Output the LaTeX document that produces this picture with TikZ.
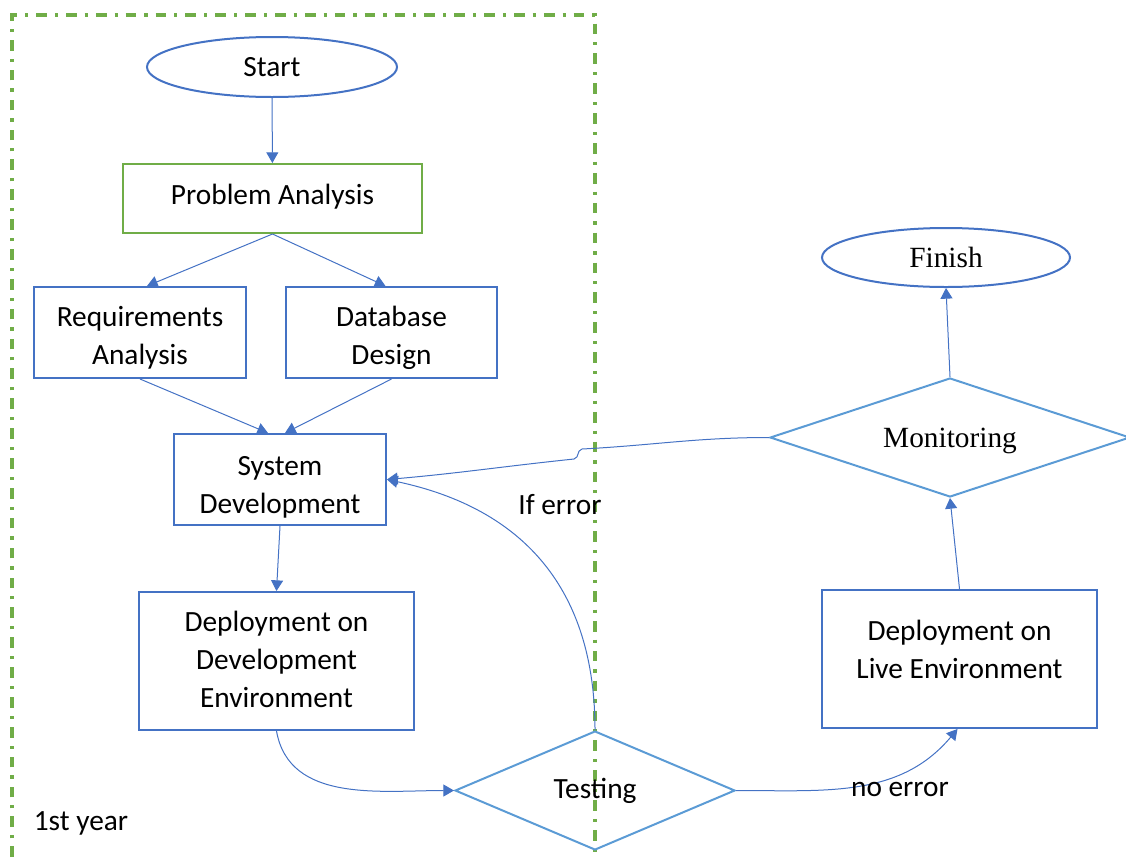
\documentclass[tikz,border=0pt]{standalone}
\usepackage{fontspec}
\setmainfont{Carlito}
\newfontfamily\timesface{Liberation Serif}
\usepackage{tikz}
\usetikzlibrary{arrows.meta, calc, shapes.geometric}
\definecolor{msblue}{HTML}{4472C4}
\definecolor{mslight}{HTML}{5B9BD5}
\definecolor{msgreen}{HTML}{70AD47}
\newcommand{\boxtext}[2]{\raisebox{#1}[\height][\depth]{\begin{tabular}{@{}c@{}}#2\end{tabular}}}
\tikzset{
	box/.style={draw=msblue, line width=1.5pt, rectangle, align=center, inner sep=2pt},
	oval/.style={draw=msblue, line width=1.5pt, ellipse, inner sep=0pt},
	decide/.style={draw=mslight, line width=1.5pt, diamond, inner sep=0pt},
	link/.style={draw=msblue, line width=0.75pt, -{Triangle[length=8pt,width=9pt]}},
}
\begin{document}
\begin{tikzpicture}[x=0.75pt, y=-0.75pt, font=\fontsize{22}{28.5}\selectfont]
	\useasboundingbox (0,0) rectangle (1126,857);
	% first year frame
	\draw[color=msgreen, line width=2.6pt, dash pattern=on 8pt off 6pt on 2.4pt off 6pt] (12,857) -- (12,15) -- (595,15) -- (595,857);
	\draw (81,823) node (year) {1st year};
	% nodes
	\node[oval, minimum width=187.5pt, minimum height=45pt] (start) at (272,67) {Start};
	\node[box, draw=msgreen, minimum width=224.25pt, minimum height=51.75pt] (prob) at (272.5,198.5) {\boxtext{1.5pt}{Problem Analysis}};
	\node[box, minimum width=159pt, minimum height=68.25pt] (req) at (140,332.5) {\boxtext{-4pt}{Requirements\\Analysis}};
	\node[box, minimum width=158.25pt, minimum height=68.25pt] (db) at (391.5,332.5) {\boxtext{-4pt}{Database\\Design}};
	\node[box, minimum width=159pt, minimum height=68.25pt] (sysdev) at (280,479.5) {\boxtext{-5.25pt}{System\\Development}};
	\node[box, minimum width=206.25pt, minimum height=103.5pt] (devenv) at (276.5,661) {\boxtext{-1pt}{Deployment on\\Development\\Environment}};
	\node[decide, aspect=2.35, minimum width=210pt, minimum height=89.25pt] (test) at (595,790.5) {Testing};
	\node[box, minimum width=206.25pt, minimum height=103.5pt] (liveenv) at (959.5,659) {\boxtext{5.25pt}{Deployment on\\Live Environment}};
	\node[decide, aspect=3, minimum width=270pt, minimum height=89.25pt, font=\timesface\fontsize{22}{27}\selectfont] (mon) at (950,437.5) {\boxtext{-2pt}{Monitoring}};
	\node[oval, minimum width=186pt, minimum height=44.25pt, font=\timesface\fontsize{22}{27}\selectfont] (finish) at (946,257.5) {Finish};
	% connectors
	\draw[link] (start) -- (prob);
	\draw[link] (prob.south) -- ($(req.north)+(7,0)$);
	\draw[link] (prob.south) -- ($(db.north)+(-6,0)$);
	\draw[link] (req.south) -- ($(sysdev.north)+(-12,0)$);
	\draw[link] (db.south) -- ($(sysdev.north)+(5,0)$);
	\draw[link] (sysdev.south) -- (devenv.north);
	\draw[link] (devenv.south) to[out=-80, in=180] (test.west);
	\draw[link] (test.north) to[out=90, in=-12, looseness=1.1] (sysdev.east);
	\draw[link] (test.east) to[out=0, in=-130] ($(liveenv.south)+(-2,0)$);
	\draw[link] (liveenv.north) -- (mon.south);
	\draw[link] (mon.north) -- (finish.south);
	\coordinate (hopa) at (582,449);
	\coordinate (hopb) at (574,459);
	\draw[link] (mon.west) to[out=180, in=3] (hopa) .. controls (576,451) and (580,457) .. (hopb) to[out=186, in=5] (sysdev.east);
	% labels
	\node (iferr) at (560,505) {If error};
	\node (noerr) at (900,789) {no error};
\end{tikzpicture}
\end{document}
